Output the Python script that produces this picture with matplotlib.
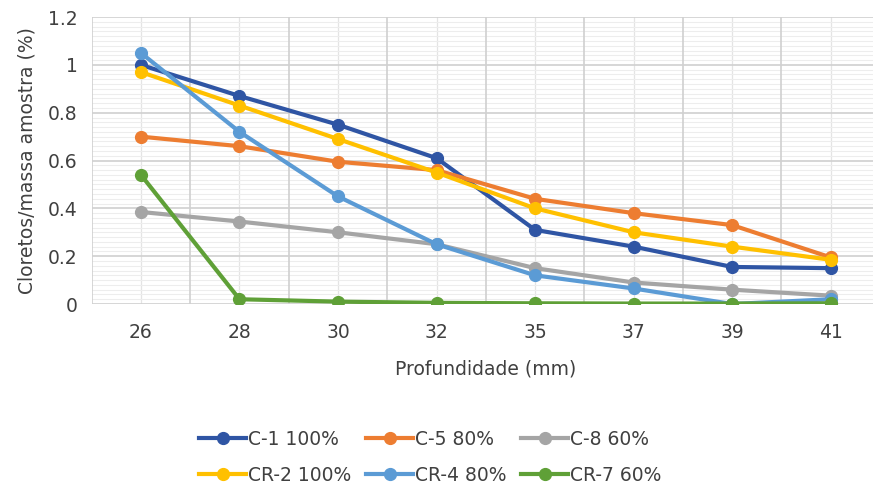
import numpy as np
import matplotlib.pyplot as plt
from matplotlib.ticker import MultipleLocator

plt.rcParams['font.family'] = ['DejaVu Sans']

# dados
profundidade = ['26', '28', '30', '32', '35', '37', '39', '41']
c1 = [1.00, 0.87, 0.75, 0.61, 0.31, 0.24, 0.155, 0.15]
c5 = [0.70, 0.66, 0.595, 0.56, 0.44, 0.38, 0.33, 0.195]
c8 = [0.385, 0.345, 0.30, 0.25, 0.15, 0.09, 0.06, 0.035]
cr2 = [0.97, 0.83, 0.69, 0.55, 0.40, 0.30, 0.24, 0.185]
cr4 = [1.05, 0.72, 0.45, 0.25, 0.12, 0.065, 0.0, 0.02]
cr7 = [0.54, 0.02, 0.01, 0.005, 0.003, 0.002, 0.002, 0.003]

series = [
    ('C-1 100%', c1, '#2F55A4'),
    ('C-5 80%', c5, '#ED7D31'),
    ('C-8 60%', c8, '#A5A5A5'),
    ('CR-2 100%', cr2, '#FFC000'),
    ('CR-4 80%', cr4, '#5B9BD5'),
    ('CR-7 60%', cr7, '#5FA037'),
]

fig = plt.figure(figsize=(8.73, 4.88), dpi=100)
ax = fig.add_axes([0.105, 0.377, 0.903, 0.588])

x = np.arange(len(profundidade))
linhas = {}
for nome, vals, cor in series:
    l, = ax.plot(x, vals, color=cor, lw=3, marker='o', ms=8.5, label=nome, zorder=3)
    linhas[nome] = l

ax.set_xlim(-0.5, len(profundidade) - 0.5)
ax.set_ylim(0, 1.2)
ax.set_xticks(x)
ax.set_xticklabels(profundidade)
ax.yaxis.set_minor_locator(MultipleLocator(0.02))
ax.set_yticks([0, 0.2, 0.4, 0.6, 0.8, 1.0, 1.2])
ax.set_yticklabels(['0', '0.2', '0.4', '0.6', '0.8', '1', '1.2'])

# grade: linhas finas primeiro, depois as principais por cima
ax.grid(which='minor', axis='y', color='#EDEDED', lw=0.8, zorder=0)
ax.grid(which='major', axis='x', color='#E4E4E4', lw=0.9, zorder=0)
for b in np.arange(-0.5, len(profundidade), 1):
    ax.axvline(b, color='#D0D0D0', lw=1.2, zorder=1)
for v in ax.get_yticks():
    ax.axhline(v, color='#D0D0D0', lw=1.2, zorder=1)
ax.set_axisbelow(True)
for s in ax.spines.values():
    s.set_visible(False)
ax.tick_params(which='both', length=0, labelsize=13.5, colors='#404040')
ax.tick_params(axis='x', pad=14)
ax.tick_params(axis='y', pad=10)

ax.set_xlabel('Profundidade (mm)', fontsize=13.5, color='#404040', labelpad=12)
ax.set_ylabel('Cloretos/massa amostra (%)', fontsize=13.5, color='#404040', labelpad=8)

ordem = ['C-1 100%', 'CR-2 100%', 'C-5 80%', 'CR-4 80%', 'C-8 60%', 'CR-7 60%']
fig.legend([linhas[n] for n in ordem], ordem, ncol=3, loc='center',
           bbox_to_anchor=(0.493, 0.063), frameon=False, fontsize=13.5,
           handlelength=2.5, handletextpad=0.1, columnspacing=0.8,
           labelspacing=0.9, labelcolor='#404040')

fig.savefig('out.png', dpi=100)
